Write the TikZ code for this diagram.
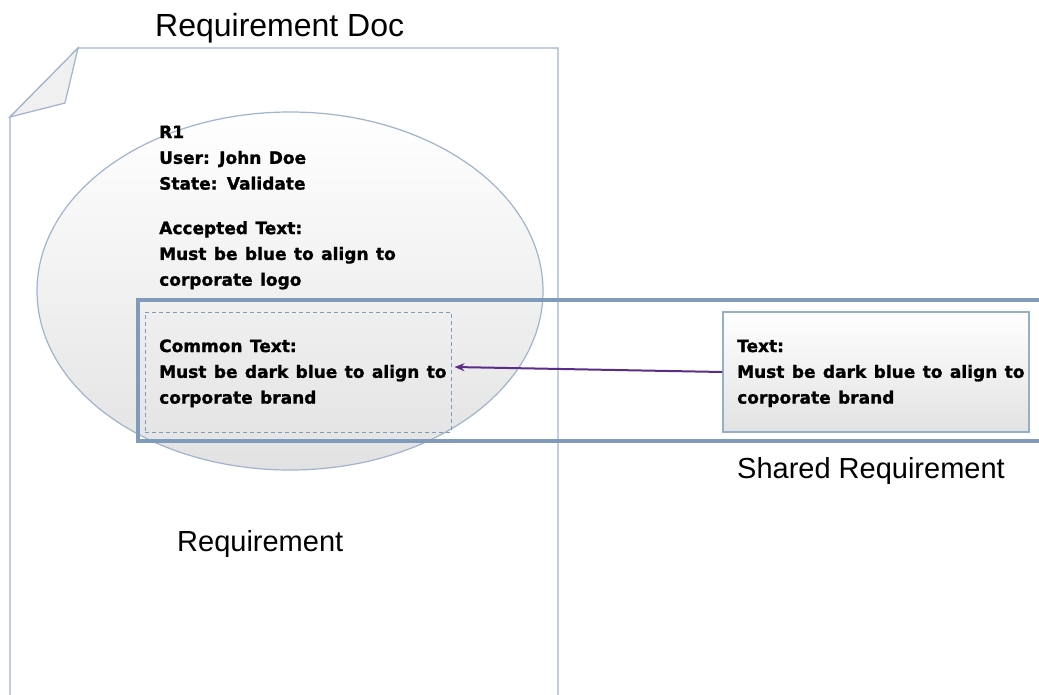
\documentclass[tikz,border=0pt]{standalone}
\usepackage{fontspec}
\setmainfont{DejaVu Sans}[WordSpace=1.25, BoldFeatures={FakeBold=1.2}]
\newfontfamily\arialf{Liberation Sans}
\usetikzlibrary{shapes.geometric,arrows.meta}

\definecolor{pageline}{RGB}{160,180,205}
\definecolor{frameline}{RGB}{127,155,185}
\definecolor{boxline}{RGB}{150,175,200}
\definecolor{linkcol}{RGB}{92,45,134}
\definecolor{foldfill}{RGB}{240,240,240}
\definecolor{shadebot}{RGB}{226,226,226}

\tikzset{
  outline/.style={draw=pageline, line width=1.2pt},
  bodytext/.style={anchor=north west, inner sep=0pt, align=left,
    font=\fontsize{17}{25.8}\selectfont\bfseries},
  caption/.style={anchor=base west, inner sep=0pt, font=\arialf\fontsize{29}{34}\selectfont},
}

\begin{document}
\begin{tikzpicture}[x=1pt, y=-1pt]
  \useasboundingbox (0,0) rectangle (1039,694);
  \clip (0,0) rectangle (1039,694);

  % document page with a folded corner
  \draw[outline, fill=white] (10,700) -- (10,117) -- (78,48) -- (558,48) -- (558,700);
  \draw[outline, fill=foldfill] (10,117) -- (78,48) -- (65,103) -- cycle;

  % requirement bubble
  \node[ellipse, outline, top color=white, bottom color=shadebot,
        minimum width=506pt, minimum height=358pt, inner sep=0pt] (req) at (290,291) {};

  % shared-requirement band (runs off to the right)
  \draw[draw=frameline, line width=4pt] (1060,300) -- (138,300) -- (138,441) -- (1060,441);

  % common text area inside the bubble
  \node[draw=frameline, line width=1pt, dash pattern=on 4pt off 3pt,
        minimum width=306pt, minimum height=120pt, inner sep=0pt] (common) at (298,372) {};

  % shared requirement box
  \node[draw=boxline, line width=1.2pt, top color=white, bottom color=shadebot,
        minimum width=306pt, minimum height=120pt, inner sep=0pt] (shared) at (876,372) {};

  % link from shared box to common text
  \draw[linkcol, line width=2pt, -{Stealth[length=10pt,width=8pt]}]
    (shared.west) -- ([xshift=3pt, yshift=5pt]common.east);

  % texts
  \node[caption] (doctitle) at (155,36.5) {\fontsize{32}{38}\selectfont Requirement Doc};
  \node[bodytext] (r1text) at (159,125.2)
    {\rule{0pt}{12.6pt}R1\\ User: John Doe\\ State: Validate\\[18.7pt]
     Accepted Text:\\ Must be blue to align to\\ corporate logo};
  \node[bodytext] (commontext) at (159,339.2)
    {\rule{0pt}{12.6pt}Common Text:\\ Must be dark blue to align to\\ corporate brand};
  \node[bodytext] (sharedtext) at (737,339.2)
    {\rule{0pt}{12.6pt}Text:\\ Must be dark blue to align to\\ corporate brand};
  \node[caption] (sharedlabel) at (737,478) {Shared Requirement};
  \node[caption] (reqlabel) at (177,551) {Requirement};
\end{tikzpicture}
\end{document}
